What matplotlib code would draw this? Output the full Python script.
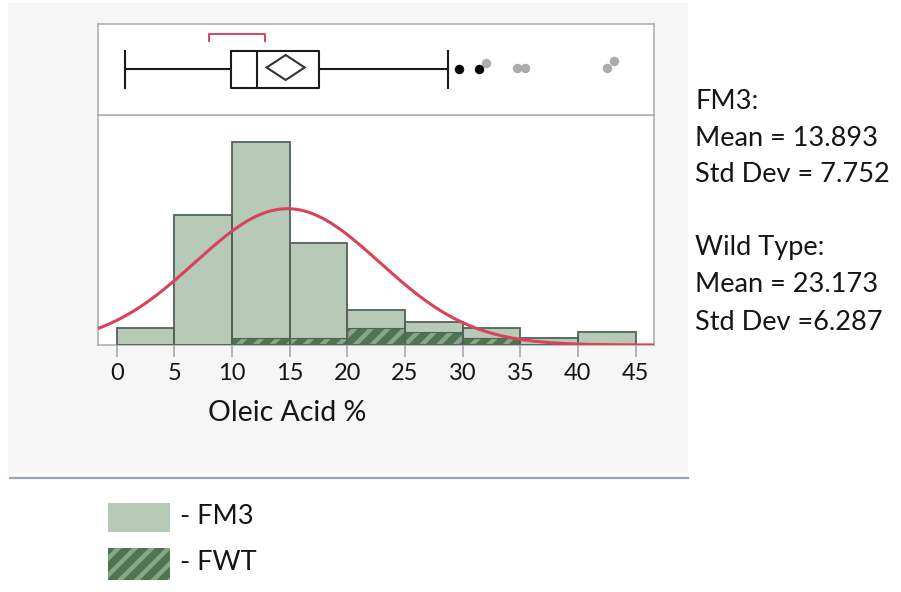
import numpy as np
import matplotlib
matplotlib.use("Agg")
import matplotlib.pyplot as plt
from matplotlib.patches import Rectangle, Polygon

plt.rcParams["font.family"] = ["Lato", "DejaVu Sans"]
plt.rcParams["hatch.linewidth"] = 3.2

# Data
bin_edges = [0, 5, 10, 15, 20, 25, 30, 35, 40]
bin_width = 5
fm3_counts = [5, 39, 61, 30.5, 10.5, 7, 5, 2, 4]
fwt_counts = [0, 0, 2, 2, 5.2, 3.8, 2, 0, 0]
xticks = [0, 5, 10, 15, 20, 25, 30, 35, 40, 45]

# normal fit drawn over the histogram
fit_mean = 14.8
fit_sd = 8.0

# outlier box plot summary
whisker_lo, q1, median, q3, whisker_hi = 0.72, 9.9, 12.2, 17.5, 28.7
mean_val, mean_ci = 14.65, (13.0, 16.3)
shortest_half = (8.0, 12.9)
outliers_fm3 = [29.7, 31.4]
outliers_wt = [32.0, 34.7, 35.4, 42.5, 43.1]
outliers_wt_y = [39.3, 44.3, 44.3, 44.0, 36.7]

stats_lines_fm3 = ["FM3:", "Mean = 13.893", "Std Dev = 7.752"]
stats_lines_wt = ["Wild Type:", "Mean = 23.173", "Std Dev =6.287"]

W, H = 901, 592
fill_fm3 = "#b7cab7"
edge_bar = "#52625a"
fwt_dark = "#4e7550"
fwt_light = "#86a886"
red = "#d9425a"
frame_col = "#b0b0b0"
text_col = "#151515"


def fig_rect(x0, y0, x1, y1):
    # pixel box (top-left origin) -> figure fraction rect
    return [x0 / W, 1 - y1 / H, (x1 - x0) / W, (y1 - y0) / H]


fig = plt.figure(figsize=(W / 100, H / 100), dpi=100)
fig.patch.set_facecolor("white")

# grey panel behind the JMP report + blue rule under it
fig.patches.append(Rectangle((8 / W, 1 - 473 / H), 680 / W, 470 / H,
                             transform=fig.transFigure, facecolor="#f6f6f6",
                             edgecolor="none", zorder=-10))
fig.add_artist(plt.Line2D([10 / W, 688 / W], [1 - 478 / H, 1 - 478 / H],
                          transform=fig.transFigure, color="#9ea4bc", lw=1.6))

xlim = (-1.6, 46.6)

########################
# Histogram (bottom)   #
########################
ax = fig.add_axes(fig_rect(98.3, 115, 654, 345))
ax.set_facecolor("white")
ax.bar(bin_edges, fm3_counts, width=bin_width, align="edge",
       color=fill_fm3, edgecolor="none", zorder=1)
ax.bar(bin_edges, fwt_counts, width=bin_width, align="edge",
       color=fwt_dark, edgecolor=fwt_light, linewidth=0, hatch="//", zorder=2)
ax.bar(bin_edges, fwt_counts, width=bin_width, align="edge",
       fill=False, edgecolor=edge_bar, linewidth=0.8, zorder=3)
ax.bar(bin_edges, fm3_counts, width=bin_width, align="edge",
       fill=False, edgecolor=edge_bar, linewidth=1.3, zorder=3)

xs = np.linspace(xlim[0], xlim[1], 400)
n_total = sum(fm3_counts)
curve = n_total * bin_width * np.exp(-0.5 * ((xs - fit_mean) / fit_sd) ** 2) / (fit_sd * np.sqrt(2 * np.pi))
ax.plot(xs, curve, color=red, lw=2.2, zorder=4)

ax.set_xlim(*xlim)
ax.set_ylim(0, 69)
ax.set_yticks([])
ax.set_xticks(xticks)
ax.tick_params(axis="x", direction="out", length=8.6, width=1.2, color="#a8a8a8",
               labelsize=17, labelcolor=text_col, pad=4)
for s in ax.spines.values():
    s.set_color(frame_col)
    s.set_linewidth(1.2)

fig.text(287 / W, 1 - 413 / H, "Oleic Acid %", ha="center", va="center",
         fontsize=20.5, color=text_col)

########################
# Outlier box plot     #
########################
bx = fig.add_axes(fig_rect(98.3, 24, 654, 115))
bx.set_facecolor("white")
bx.set_xlim(*xlim)
bx.set_ylim(91, 0)
bx.set_xticks([])
bx.set_yticks([])
for s in bx.spines.values():
    s.set_color(frame_col)
    s.set_linewidth(1.2)

stats = [dict(whislo=whisker_lo, q1=q1, med=median, q3=q3, whishi=whisker_hi, fliers=[])]
line_kw = dict(color="#1a1a1a", linewidth=1.5)
bx.bxp(stats, positions=[45.3], widths=36.7, vert=False, showfliers=False,
       boxprops=line_kw, whiskerprops=line_kw, capprops=line_kw,
       medianprops=line_kw, capwidths=37.6, manage_ticks=False)

bx.add_patch(Polygon([(mean_ci[0], 43.5), (mean_val, 31), (mean_ci[1], 43.5), (mean_val, 56)],
                     closed=True, fill=False, edgecolor="#333333", lw=1.5))

bx.plot([shortest_half[0], shortest_half[0], shortest_half[1], shortest_half[1]],
        [16.7, 10, 10, 16.7], color=red, lw=1.4)

bx.plot(outliers_wt, outliers_wt_y, "o", ms=6.8, color="#a3a3a3", mec="none", alpha=0.9)
bx.plot(outliers_fm3, [45, 45], "o", ms=6.8, color="black", mec="none")

########################
# Summary text, legend #
########################
for txt, yy in zip(stats_lines_fm3 + stats_lines_wt, [101.7, 138, 175, 248, 285, 322]):
    fig.text(695 / W, 1 - yy / H, txt, ha="left", va="center", fontsize=19.5, color=text_col)

fig.patches.append(Rectangle((108 / W, 1 - 532 / H), 62 / W, 29 / H,
                             transform=fig.transFigure, facecolor=fill_fm3, edgecolor="none"))
fig.patches.append(Rectangle((108 / W, 1 - 580 / H), 62 / W, 32 / H,
                             transform=fig.transFigure, facecolor=fwt_dark,
                             edgecolor=fwt_light, linewidth=0, hatch="//"))
fig.text(180 / W, 1 - 517 / H, "- FM3", ha="left", va="center", fontsize=19.5, color=text_col)
fig.text(180 / W, 1 - 563 / H, "- FWT", ha="left", va="center", fontsize=19.5, color=text_col)

fig.savefig("out.png", dpi=100)
